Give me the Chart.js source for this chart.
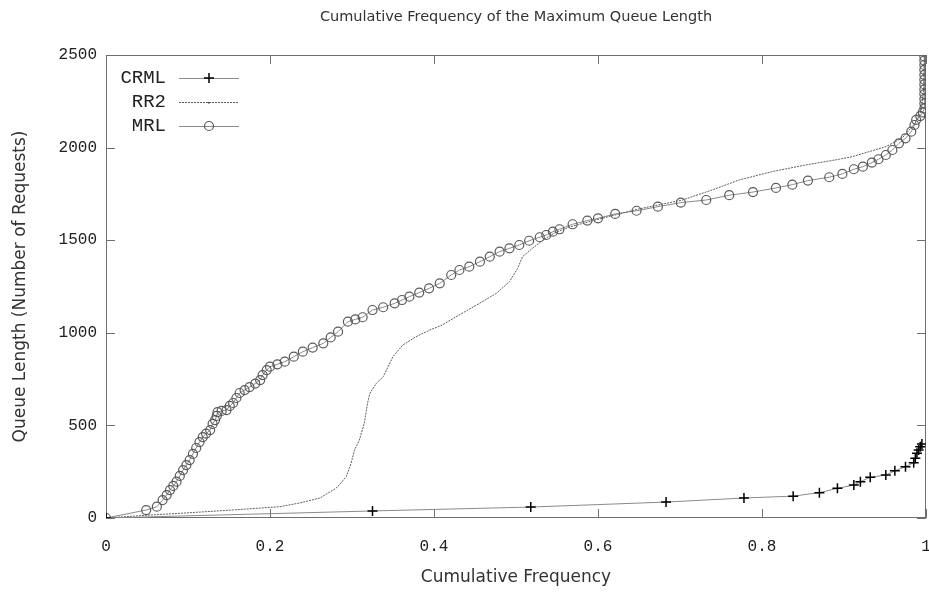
<!DOCTYPE html>
<html>
<head>
<meta charset="utf-8">
<script src="https://cdn.jsdelivr.net/npm/chart.js@4"></script>
<style>
  html, body { margin: 0; padding: 0; background: #fff; }
</style>
</head>
<body>
<canvas id="queueChart" width="929" height="594"></canvas>
<script>
// ── data ──
const xTicks = [0, 0.2, 0.4, 0.6, 0.8, 1];
const xTickLabels = ['0', '0.2', '0.4', '0.6', '0.8', '1'];
const yTicks = [0, 500, 1000, 1500, 2000, 2500];
const yTickLabels = ['0', '500', '1000', '1500', '2000', '2500'];

const crmlX = [0, 0.325, 0.518, 0.683, 0.778, 0.838, 0.870, 0.892, 0.912, 0.920, 0.932, 0.951, 0.962, 0.975, 0.985, 0.987, 0.989, 0.991, 0.993, 0.995];
const crmlY = [0, 38, 59, 86, 108, 118, 137, 160, 178, 196, 220, 232, 255, 277, 299, 322, 349, 367, 385, 400];

const rr2X = [0, 0.05, 0.1, 0.15, 0.212, 0.236, 0.261, 0.281, 0.293, 0.299, 0.303, 0.309, 0.315, 0.319, 0.322, 0.330, 0.334,
  0.338, 0.350, 0.362, 0.378, 0.395, 0.410, 0.427, 0.452, 0.476, 0.492, 0.502, 0.508, 0.520, 0.533, 0.547,
  0.565, 0.602, 0.650, 0.703, 0.739, 0.772, 0.812, 0.853, 0.894, 0.910, 0.951, 0.971, 0.987, 0.994, 0.997, 0.998];
const rr2Y = [0, 15, 28, 42, 61, 81, 108, 162, 223, 297, 367, 421, 513, 621, 675, 729, 745,
  763, 871, 934, 979, 1015, 1042, 1087, 1150, 1213, 1276, 1348, 1411, 1456, 1501, 1539,
  1571, 1615, 1669, 1717, 1771, 1825, 1870, 1906, 1937, 1951, 2005, 2052, 2133, 2192, 2311, 2495];

const mrlX = [0, 0.049, 0.062, 0.069, 0.074, 0.078, 0.082, 0.086, 0.090, 0.094, 0.098, 0.102, 0.106, 0.110, 0.114, 0.118,
  0.122, 0.127, 0.130, 0.133, 0.135, 0.136, 0.141, 0.147, 0.151, 0.155, 0.159, 0.163, 0.169, 0.175, 0.182, 0.188,
  0.191, 0.196, 0.200, 0.209, 0.218, 0.229, 0.240, 0.252, 0.265, 0.274, 0.283, 0.295, 0.304, 0.313, 0.325, 0.338,
  0.352, 0.361, 0.370, 0.382, 0.394, 0.407, 0.421, 0.431, 0.443, 0.456, 0.468, 0.480, 0.492, 0.504, 0.516, 0.529,
  0.537, 0.545, 0.553, 0.569, 0.587, 0.600, 0.621, 0.647, 0.673, 0.701, 0.732, 0.760, 0.789, 0.817, 0.837, 0.856,
  0.882, 0.898, 0.912, 0.923, 0.934, 0.942, 0.951, 0.959, 0.967, 0.975, 0.982, 0.986, 0.988, 0.993, 0.996,
  0.998, 0.998, 0.998, 0.998, 0.998, 0.998, 0.998, 0.998, 0.998, 0.998, 0.998, 0.998];
const mrlY = [0, 43, 61, 97, 124, 151, 173, 196, 227, 259, 286, 313, 346, 378, 410, 437,
  456, 475, 508, 529, 551, 572, 578, 583, 605, 621, 648, 675, 691, 707, 726, 745,
  772, 799, 817, 830, 844, 871, 898, 920, 943, 975, 1006, 1060, 1072, 1084, 1123, 1138,
  1159, 1177, 1195, 1217, 1240, 1267, 1312, 1339, 1357, 1384, 1411, 1438, 1456, 1474, 1497, 1516,
  1528, 1546, 1559, 1586, 1606, 1618, 1642, 1659, 1681, 1703, 1717, 1743, 1760, 1782, 1800, 1822,
  1840, 1858, 1883, 1897, 1919, 1937, 1960, 1987, 2023, 2050, 2086, 2122, 2150, 2170, 2190,
  2212, 2238, 2262, 2289, 2314, 2341, 2367, 2393, 2420, 2446, 2470, 2492];

const toPoints = (xs, ys) => xs.map((x, i) => ({ x: x, y: ys[i] }));

const monoFont = { family: "'Liberation Mono', 'DejaVu Sans Mono', monospace", size: 16 };
const keyFontSize = 19;
const sansFamily = "'DejaVu Sans', sans-serif";

// frame with inward, mirrored ticks (gnuplot style)
const framePlugin = {
  id: 'frame',
  beforeDatasetsDraw(chart) {
    const { ctx, chartArea: a, scales } = chart;
    const len = 9;
    ctx.save();
    ctx.strokeStyle = '#6e6e6e';
    ctx.lineWidth = 1;
    ctx.strokeRect(a.left + 0.5, a.top + 0.5, a.right - a.left - 1, a.bottom - a.top - 1);
    ctx.beginPath();
    xTicks.forEach(v => {
      const px = Math.round(scales.x.getPixelForValue(v)) + 0.5;
      ctx.moveTo(px, a.bottom); ctx.lineTo(px, a.bottom - len);
      ctx.moveTo(px, a.top); ctx.lineTo(px, a.top + len);
    });
    yTicks.forEach(v => {
      const py = Math.round(scales.y.getPixelForValue(v)) + 0.5;
      ctx.moveTo(a.left, py); ctx.lineTo(a.left + len, py);
      ctx.moveTo(a.right, py); ctx.lineTo(a.right - len, py);
    });
    ctx.stroke();
    ctx.restore();
  }
};

// key in the top left corner
const keyPlugin = {
  id: 'key',
  afterDraw(chart) {
    const { ctx } = chart;
    ctx.save();
    ctx.font = `${keyFontSize}px ${monoFont.family}`;
    ctx.textAlign = 'right';
    ctx.textBaseline = 'middle';
    chart.data.datasets.forEach((ds, i) => {
      const y = 78 + i * 24;
      ctx.fillStyle = '#222';
      ctx.fillText(ds.label, 166, y);
      ctx.strokeStyle = ds.borderColor;
      ctx.setLineDash(ds.borderDash || []);
      ctx.lineWidth = 1;
      ctx.beginPath();
      ctx.moveTo(179, y + 0.5); ctx.lineTo(239, y + 0.5);
      ctx.stroke();
      ctx.setLineDash([]);
      if (ds.pointRadius > 0) {
        ctx.strokeStyle = ds.pointBorderColor;
        ctx.fillStyle = 'rgba(0,0,0,0)';
        ctx.lineWidth = ds.pointBorderWidth;
        Chart.helpers.drawPoint(ctx, { pointStyle: ds.pointStyle, radius: ds.pointRadius, borderWidth: ds.pointBorderWidth, rotation: 0 }, 209, y);
      } else {
        ctx.fillStyle = '#444';
        ctx.fillRect(208, y, 1.5, 1.5);
      }
    });
    ctx.restore();
  }
};

new Chart(document.getElementById('queueChart'), {
  type: 'scatter',
  data: {
    datasets: [
      {
        label: 'CRML',
        data: toPoints(crmlX, crmlY),
        showLine: true,
        borderColor: '#8a8a8a',
        borderWidth: 1,
        pointStyle: 'cross',
        pointRadius: 5,
        pointBorderColor: '#000',
        pointBorderWidth: 1.5,
        pointBackgroundColor: 'rgba(0,0,0,0)'
      },
      {
        label: 'RR2',
        data: toPoints(rr2X, rr2Y),
        showLine: true,
        borderColor: '#5e5e5e',
        borderWidth: 1,
        borderDash: [2, 1],
        pointRadius: 0
      },
      {
        label: 'MRL',
        data: toPoints(mrlX, mrlY),
        showLine: true,
        borderColor: '#8a8a8a',
        borderWidth: 1,
        pointStyle: 'circle',
        pointRadius: 4.5,
        pointBorderColor: '#5a5a5a',
        pointBorderWidth: 1.2,
        pointBackgroundColor: 'rgba(0,0,0,0)'
      }
    ]
  },
  options: {
    responsive: false,
    animation: false,
    layout: { autoPadding: false, padding: { left: 0, right: 3, top: 0, bottom: 0 } },
    plugins: {
      legend: { display: false },
      tooltip: { enabled: false },
      title: {
        display: true,
        fullSize: false,
        text: 'Cumulative Frequency of the Maximum Queue Length',
        color: '#333',
        font: { family: sansFamily, size: 14.5, weight: 'normal' },
        padding: { top: 9, bottom: 28.6 }
      }
    },
    scales: {
      x: {
        type: 'linear',
        min: 0,
        max: 1,
        grid: { display: false, drawTicks: false },
        border: { display: false },
        afterBuildTicks: s => { s.ticks = xTicks.map(v => ({ value: v })); },
        afterFit: s => { s.height = 76; s.paddingLeft = 0; s.paddingRight = 0; },
        ticks: {
          color: '#222',
          font: monoFont,
          padding: 19,
          maxRotation: 0,
          callback: (v, i) => xTickLabels[i]
        },
        title: {
          display: true,
          text: 'Cumulative Frequency',
          color: '#333',
          font: { family: sansFamily, size: 17 },
          padding: { top: 0, bottom: 6 }
        }
      },
      y: {
        type: 'linear',
        min: 0,
        max: 2500,
        grid: { display: false, drawTicks: false },
        border: { display: false },
        afterBuildTicks: s => { s.ticks = yTicks.map(v => ({ value: v })); },
        afterFit: s => { s.width = 106; s.paddingTop = 0; s.paddingBottom = 0; },
        ticks: {
          color: '#222',
          font: monoFont,
          padding: 9,
          callback: (v, i) => yTickLabels[i]
        },
        title: {
          display: true,
          text: 'Queue Length (Number of Requests)',
          color: '#333',
          font: { family: sansFamily, size: 17 },
          padding: { top: 10, bottom: 0 }
        }
      }
    }
  },
  plugins: [framePlugin, keyPlugin]
});
</script>
</body>
</html>
